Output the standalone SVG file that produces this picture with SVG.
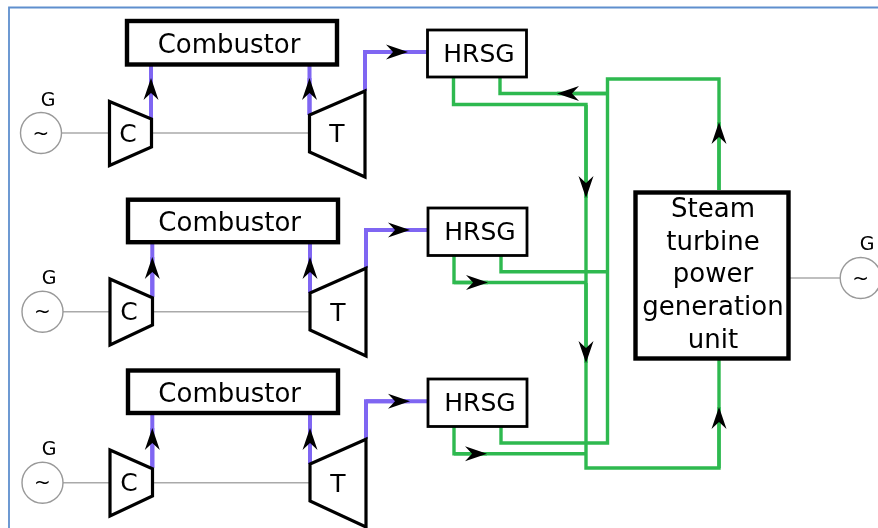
<svg xmlns="http://www.w3.org/2000/svg" width="878" height="528" viewBox="0 0 878 528">
<style>
text{font-family:"DejaVu Sans",Verdana,sans-serif;fill:#000;text-anchor:middle}
.lbl{font-size:26px}
.hr{font-size:25px}
.eq{font-size:25px}
.g{font-size:19px}
.t{font-size:20px}
.box{fill:#fff;stroke:#000;stroke-width:4.4}
.hbox{fill:#fff;stroke:#000;stroke-width:2.8}
.eqs{fill:#fff;stroke:#000;stroke-width:3.2;stroke-linejoin:miter}
.gen{fill:#fff;stroke:#999;stroke-width:1.4}
.shaft{fill:none;stroke:#aaa;stroke-width:1.6}
.gas{fill:none;stroke:#7f66f2;stroke-width:4}
.st{fill:none;stroke:#2fb950;stroke-width:3.4}
</style>
<defs>
<filter id="soft" x="0" y="0" width="878" height="528" filterUnits="userSpaceOnUse"><feGaussianBlur stdDeviation="0.6"/></filter>
<marker id="ah" markerUnits="userSpaceOnUse" markerWidth="23" markerHeight="16" refX="22" refY="8" orient="auto" viewBox="0 0 23 16"><path d="M22 8L0 .5L7 8L0 15.500Z" fill="#000"/></marker>
</defs>
<rect width="878" height="528" fill="#fff"/>
<g filter="url(#soft)">
<path d="M9 528V7.500H878" fill="none" stroke="#5f8fce" stroke-width="1.800"/>
<g id="connectors">
<path class="shaft" d="M62 133H109M152 133H309M62.500 311.700H110M153 311.700H310M62.500 482.700H110M153 482.700H310M790 278H840"/>
<path class="gas" d="M151 118V66M309.500 115V66M365 91V52H428M152.300 297V244M310 293V244M366 268V230H428M152.300 468V415M310 464V415M366 439V401.300H428"/>
<path class="gas" marker-end="url(#ah)" d="M151 118V78"/>
<path class="gas" marker-end="url(#ah)" d="M309.500 115V78"/>
<path class="gas" marker-end="url(#ah)" d="M365 52H408"/>
<path class="gas" marker-end="url(#ah)" d="M152.300 297V257"/>
<path class="gas" marker-end="url(#ah)" d="M310 293V257"/>
<path class="gas" marker-end="url(#ah)" d="M366 230H410"/>
<path class="gas" marker-end="url(#ah)" d="M152.300 468V428"/>
<path class="gas" marker-end="url(#ah)" d="M310 464V428"/>
<path class="gas" marker-end="url(#ah)" d="M366 401.300H410"/>
<path class="st" d="M453.500 77V104.500H586V468H719V360"/>
<path class="st" d="M500 77V93.500H607.500M719 190V79H607.500V443H501V427"/>
<path class="st" d="M454 256V282.500H586M501 256V271.700H607.500M454 427V453.700H586"/>
<path class="st" marker-end="url(#ah)" d="M607 93.500H557"/>
<path class="st" marker-end="url(#ah)" d="M586 105V198"/>
<path class="st" marker-end="url(#ah)" d="M719 190V122"/>
<path class="st" marker-end="url(#ah)" d="M454 282.500H488"/>
<path class="st" marker-end="url(#ah)" d="M586 283V363"/>
<path class="st" marker-end="url(#ah)" d="M719 468V407"/>
<path class="st" marker-end="url(#ah)" d="M454 453.700H487"/>
</g>
<g id="gen1"><circle class="gen" cx="41" cy="133" r="20.500"/><text class="t" x="41" y="139.500">~</text><text class="g" x="48" y="105.500">G</text></g>
<g id="compressor1"><path class="eqs" d="M109.500 101.500L151.500 119V147L109.500 165.500Z"/><text class="eq" x="128" y="141.500">C</text></g>
<g id="turbine1"><path class="eqs" d="M365 91L309.500 115V152L365 177Z"/><text class="eq" x="337" y="142">T</text></g>
<g id="combustor1"><rect class="box" x="127" y="21" width="210" height="43.500"/><text class="lbl" x="229" y="52.500">Combustor</text></g>
<g id="hrsg1"><rect class="hbox" x="427.500" y="30" width="99" height="47"/><text class="hr" x="479" y="61.500">HRSG</text></g>

<g id="gen2"><circle class="gen" cx="42.500" cy="311.700" r="20.500"/><text class="t" x="42.500" y="318.200">~</text><text class="g" x="49" y="284">G</text></g>
<g id="compressor2"><path class="eqs" d="M110 279L152.500 297.700V325L110 345Z"/><text class="eq" x="129" y="320">C</text></g>
<g id="turbine2"><path class="eqs" d="M366 268.300L310 293V330L366 356Z"/><text class="eq" x="338" y="320.500">T</text></g>
<g id="combustor2"><rect class="box" x="128" y="199.700" width="210" height="42.500"/><text class="lbl" x="229.700" y="230.700">Combustor</text></g>
<g id="hrsg2"><rect class="hbox" x="428" y="208" width="99" height="47.500"/><text class="hr" x="480" y="239.500">HRSG</text></g>

<g id="gen3"><circle class="gen" cx="42.500" cy="482.700" r="20.500"/><text class="t" x="42.500" y="489.200">~</text><text class="g" x="49" y="455">G</text></g>
<g id="compressor3"><path class="eqs" d="M110 450L152.500 468.700V496L110 516Z"/><text class="eq" x="129" y="491">C</text></g>
<g id="turbine3"><path class="eqs" d="M366 439.300L310 464V501L366 527Z"/><text class="eq" x="338" y="491.500">T</text></g>
<g id="combustor3"><rect class="box" x="128" y="370.500" width="210" height="42.500"/><text class="lbl" x="229.700" y="401.700">Combustor</text></g>
<g id="hrsg3"><rect class="hbox" x="428" y="379" width="99" height="47.500"/><text class="hr" x="480" y="410.500">HRSG</text></g>

<g id="steam"><rect class="box" x="635.500" y="192.500" width="153" height="166"/>
<text class="lbl" x="713" y="216.700">Steam</text><text class="lbl" x="713" y="250">turbine</text><text class="lbl" x="713" y="282">power</text><text class="lbl" x="713" y="315">generation</text><text class="lbl" x="713" y="348">unit</text></g>
<g id="gen4"><circle class="gen" cx="860.700" cy="278" r="20.500"/><text class="t" x="860.700" y="284.500">~</text><text class="g" x="867" y="250">G</text></g>
</g>
</svg>
